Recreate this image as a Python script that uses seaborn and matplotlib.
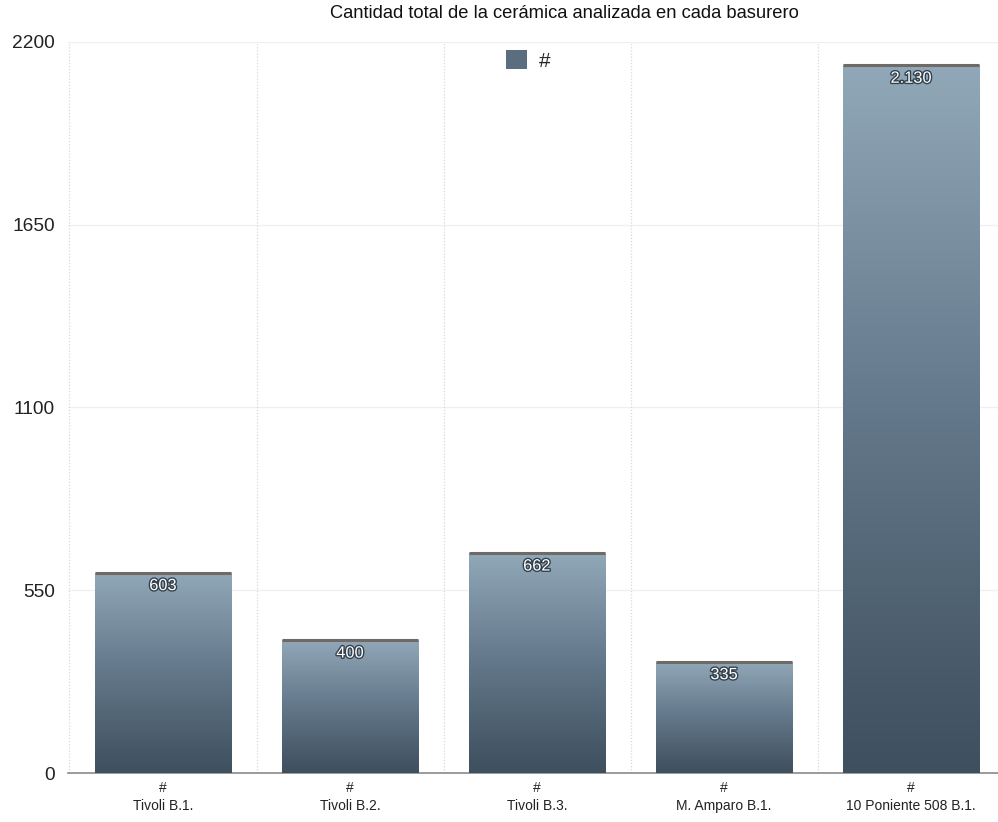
import numpy as np
import pandas as pd
import matplotlib
matplotlib.use("Agg")
import matplotlib.pyplot as plt
import matplotlib.patheffects as pe
from matplotlib.patches import Patch
from matplotlib.colors import LinearSegmentedColormap
import seaborn as sns

categories = ["Tivoli B.1.", "Tivoli B.2.", "Tivoli B.3.", "M. Amparo B.1.", "10 Poniente 508 B.1."]
values = [603, 400, 662, 335, 2130]
value_labels = ["603", "400", "662", "335", "2.130"]
series_name = "#"
title = "Cantidad total de la cerámica analizada en cada basurero"
yticks = [0, 550, 1100, 1650, 2200]

sns.set_theme(style="white")
plt.rcParams["font.family"] = ["Liberation Sans", "DejaVu Sans"]

df = pd.DataFrame({"cat": categories, "val": values})

fig = plt.figure(figsize=(9.98, 8.22), dpi=100)
ax = fig.add_axes([68 / 998, 1 - 773 / 822, 930 / 998, 731 / 822])

sns.barplot(data=df, x="cat", y="val", color="#5a6e80", width=0.73, ax=ax, zorder=3)

ax.set_ylim(0, 2200)
ax.set_xlim(-0.508, 4.465)

cmap = LinearSegmentedColormap.from_list("bar", ["#3e4f5e", "#627789", "#91a8b9"])
grad = np.linspace(0, 1, 256).reshape(-1, 1)
for p in ax.patches:
    x0 = p.get_x()
    w = p.get_width()
    h = p.get_height()
    im = ax.imshow(grad, extent=(x0, x0 + w, 0, h), origin="lower", cmap=cmap,
                   aspect="auto", zorder=3)
    im.set_clip_path(p)
    p.set_facecolor("none")
    p.set_edgecolor("none")
    ax.plot([x0, x0 + w], [h, h], color="#6f6a66", lw=2.2, zorder=4, solid_capstyle="butt")

for i, (v, lab) in enumerate(zip(values, value_labels)):
    t = ax.annotate(lab, xy=(i, v), xytext=(0, -13), textcoords="offset pixels",
                    ha="center", va="center", fontsize=11.8, color="white", zorder=5)
    t.set_path_effects([pe.withStroke(linewidth=2, foreground="#33414d")])

ax.set_yticks(yticks)
ax.set_yticklabels([str(t) for t in yticks], fontsize=13.8, color="#222222")
ax.set_xticks(range(len(categories)))
ax.set_xticklabels([f"{series_name}\n{c}" for c in categories], fontsize=10, color="#222222",
                   linespacing=1.3)
ax.tick_params(axis="both", length=0)
ax.tick_params(axis="y", pad=9.5)
ax.tick_params(axis="x", pad=6)
ax.set_xlabel("")
ax.set_ylabel("")

for y in yticks[1:]:
    ax.axhline(y, color="#f0f0f0", lw=1, zorder=0)
for x in np.arange(-0.5, 5, 1.0):
    ax.axvline(x, color="#d8d8d8", lw=0.9, ls=(0, (1, 1.5)), zorder=0)

for s in ["top", "right", "left"]:
    ax.spines[s].set_visible(False)
ax.spines["bottom"].set_color("#8a8a8a")
ax.spines["bottom"].set_linewidth(1.2)

handle = Patch(facecolor="#5a6e80", edgecolor="none")
ax.legend([handle], [series_name], loc="upper center", bbox_to_anchor=(0.495, 1.0),
          borderaxespad=0.0, frameon=False, fontsize=15, handlelength=1.0, handleheight=1.0,
          handletextpad=0.6)

fig.text(564 / 998, 1 - 14 / 822, title, ha="center", va="center", fontsize=13.2, color="#111111")

fig.savefig("out.png", dpi=100, facecolor="white")
